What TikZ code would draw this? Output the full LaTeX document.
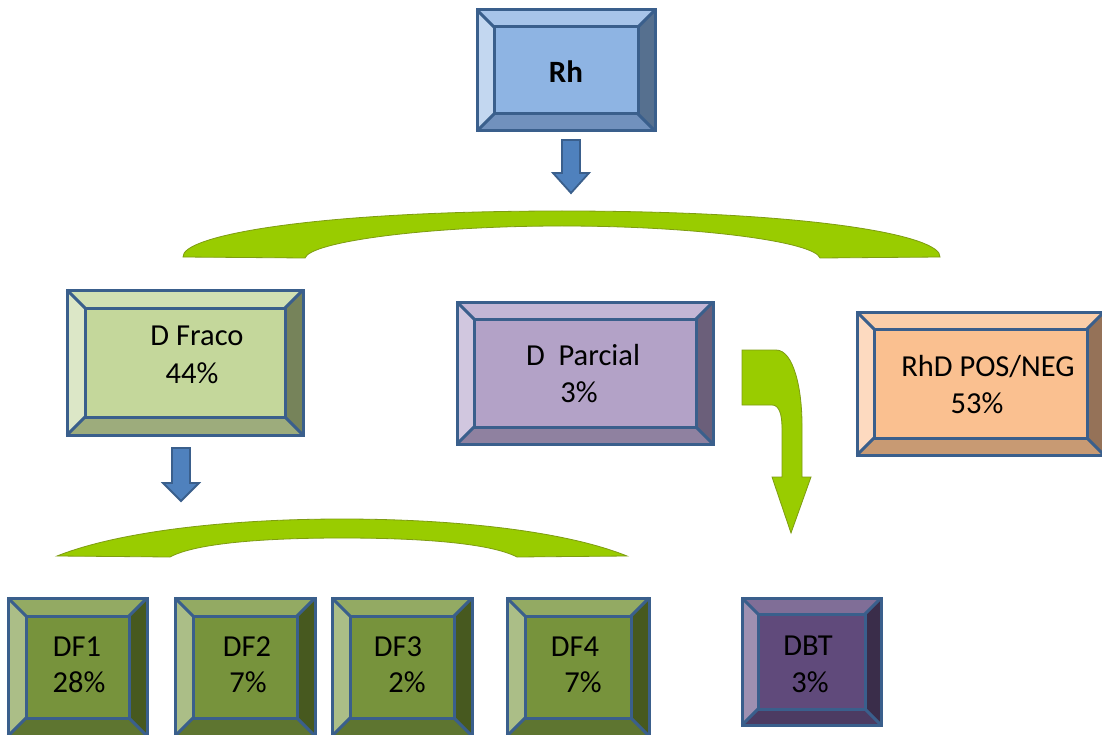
\documentclass[tikz,border=0pt]{standalone}
\usepackage{fontspec}
\setmainfont{Carlito}
\usetikzlibrary{calc}

% outline and arrow colours
\definecolor{edge}{HTML}{3A5F8C}
\definecolor{arrowblue}{HTML}{4F81BD}
\definecolor{lime}{HTML}{99CC00}
\definecolor{limeedge}{HTML}{7E9C12}
% bevelled panel palettes: face, top, left, right, bottom
\definecolor{rhFace}{HTML}{8EB4E3}\definecolor{rhTop}{HTML}{A7C4E9}\definecolor{rhLeft}{HTML}{C3D7F0}\definecolor{rhRight}{HTML}{56708F}\definecolor{rhBot}{HTML}{7191BD}
\definecolor{frFace}{HTML}{C4D79B}\definecolor{frTop}{HTML}{D1E0B3}\definecolor{frLeft}{HTML}{DCE7C7}\definecolor{frRight}{HTML}{76835A}\definecolor{frBot}{HTML}{9DAC7C}
\definecolor{paFace}{HTML}{B3A2C7}\definecolor{paTop}{HTML}{C3B6D5}\definecolor{paLeft}{HTML}{D1C7DF}\definecolor{paRight}{HTML}{6B5F7A}\definecolor{paBot}{HTML}{8F81A0}
\definecolor{poFace}{HTML}{FAC090}\definecolor{poTop}{HTML}{FBCEA9}\definecolor{poLeft}{HTML}{FDDAC0}\definecolor{poRight}{HTML}{957258}\definecolor{poBot}{HTML}{C89A73}
\definecolor{dfFace}{HTML}{77933C}\definecolor{dfTop}{HTML}{93AA63}\definecolor{dfLeft}{HTML}{ABBE87}\definecolor{dfRight}{HTML}{47591F}\definecolor{dfBot}{HTML}{5E7530}
\definecolor{dbFace}{HTML}{604A7B}\definecolor{dbTop}{HTML}{806E97}\definecolor{dbLeft}{HTML}{9E90B1}\definecolor{dbRight}{HTML}{3A2D4A}\definecolor{dbBot}{HTML}{4C3B62}

\tikzset{
  panel/.style={rectangle, inner sep=0pt, outer sep=0pt},
  bord/.style={draw=edge, line width=3pt, line join=miter},
  lbl/.style={anchor=base, inner sep=0pt, text=black, font=\fontsize{30.5}{36}\selectfont},
  greenshape/.style={fill=lime, draw=limeedge, line width=0.8pt},
  bluearrow/.style={fill=arrowblue, draw=edge, line width=1.8pt, line join=miter},
}

% bevelled panel around node #1: #2 bevel width, #3 face, #4 top, #5 left, #6 right, #7 bottom
\newcommand\bevelpanel[7]{%
  \fill[#4] (#1.north west) -- (#1.north east) -- ($(#1.north east)+(-#2,-#2)$) -- ($(#1.north west)+(#2,-#2)$) -- cycle;
  \fill[#5] (#1.north west) -- (#1.south west) -- ($(#1.south west)+(#2,#2)$) -- ($(#1.north west)+(#2,-#2)$) -- cycle;
  \fill[#6] (#1.north east) -- (#1.south east) -- ($(#1.south east)+(-#2,#2)$) -- ($(#1.north east)+(-#2,-#2)$) -- cycle;
  \fill[#7] (#1.south west) -- (#1.south east) -- ($(#1.south east)+(-#2,#2)$) -- ($(#1.south west)+(#2,#2)$) -- cycle;
  \fill[#3] ($(#1.north west)+(#2,-#2)$) rectangle ($(#1.south east)+(-#2,#2)$);
  \draw[bord] ($(#1.north west)+(#2,-#2)$) rectangle ($(#1.south east)+(-#2,#2)$);
  \draw[bord] (#1.north west) -- ++(#2,-#2) (#1.north east) -- ++(-#2,-#2)
              (#1.south west) -- ++(#2,#2) (#1.south east) -- ++(-#2,#2);
  \draw[bord] (#1.north west) rectangle (#1.south east);
}

\begin{document}
\begin{tikzpicture}[x=1pt,y=-1pt]
\useasboundingbox (0,0) rectangle (1102,735);
\clip (0,0) rectangle (1102,735);
\fill[white] (0,0) rectangle (1102,735);

% panels
\node[panel, minimum width=178pt, minimum height=121pt] (rh) at (566,70.5) {};
\node[panel, minimum width=236pt, minimum height=145pt] (fraco) at (185,362.5) {};
\node[panel, minimum width=256pt, minimum height=142pt] (parcial) at (585,373) {};
\node[panel, minimum width=247pt, minimum height=143pt] (posneg) at (980.5,383.5) {};
\node[panel, minimum width=139pt, minimum height=138pt] (df1) at (77.5,667) {};
\node[panel, minimum width=140pt, minimum height=138pt] (df2) at (245,667) {};
\node[panel, minimum width=140pt, minimum height=138pt] (df3) at (402,667) {};
\node[panel, minimum width=142pt, minimum height=138pt] (df4) at (578,667) {};
\node[panel, minimum width=139pt, minimum height=127pt] (dbt) at (811.5,661.5) {};

\bevelpanel{rh}{17pt}{rhFace}{rhTop}{rhLeft}{rhRight}{rhBot}
\bevelpanel{fraco}{18pt}{frFace}{frTop}{frLeft}{frRight}{frBot}
\bevelpanel{parcial}{17pt}{paFace}{paTop}{paLeft}{paRight}{paBot}
\bevelpanel{posneg}{17pt}{poFace}{poTop}{poLeft}{poRight}{poBot}
\bevelpanel{df1}{18pt}{dfFace}{dfTop}{dfLeft}{dfRight}{dfBot}
\bevelpanel{df2}{18pt}{dfFace}{dfTop}{dfLeft}{dfRight}{dfBot}
\bevelpanel{df3}{18pt}{dfFace}{dfTop}{dfLeft}{dfRight}{dfBot}
\bevelpanel{df4}{18pt}{dfFace}{dfTop}{dfLeft}{dfRight}{dfBot}
\bevelpanel{dbt}{16pt}{dbFace}{dbTop}{dbLeft}{dbRight}{dbBot}

% labels
\node[lbl, font=\fontsize{31}{36}\selectfont\bfseries] (rh-a) at (566,83) {Rh};
\node[lbl] (fraco-a) at (197,345) {D Fraco};
\node[lbl] (fraco-b) at (192,383) {44\%};
\node[lbl] (parcial-a) at (583,365) {D\ \ Parcial};
\node[lbl] (parcial-b) at (579,402) {3\%};
\node[lbl] (posneg-a) at (988,376) {RhD POS/NEG};
\node[lbl] (posneg-b) at (977,413) {53\%};
\node[lbl] (df1-a) at (77,656) {DF1};
\node[lbl] (df1-b) at (79,692) {28\%};
\node[lbl] (df2-a) at (247,656) {DF2};
\node[lbl] (df2-b) at (248,692) {7\%};
\node[lbl] (df3-a) at (398,656) {DF3};
\node[lbl] (df3-b) at (407,692) {2\%};
\node[lbl] (df4-a) at (575,656) {DF4};
\node[lbl] (df4-b) at (583,692) {7\%};
\node[lbl] (dbt-a) at (808,655) {DBT};
\node[lbl] (dbt-b) at (810,692) {3\%};

% block arrows below Rh and D Fraco
\coordinate (rhout) at (571,140);
\draw[bluearrow] (rhout) ++(-9,0) -- ++(18,0) -- ++(0,33) -- ++(9,0) -- ++(-18,20) -- ++(-18,-20) -- ++(9,0) -- cycle;
\coordinate (fracoout) at (181,448);
\draw[bluearrow] (fracoout) ++(-9,0) -- ++(18,0) -- ++(0,35) -- ++(9,0) -- ++(-18,18) -- ++(-18,-18) -- ++(9,0) -- cycle;

% upper curved bracket
\draw[greenshape] (183,257) .. controls (181,236) and (310,211) .. (562,211)
  .. controls (815,211) and (942,236) .. (940,257) -- (820,258)
  .. controls (815,242) and (700,226) .. (562,226)
  .. controls (425,226) and (310,242) .. (305,258) -- cycle;

% lower curved bracket
\draw[greenshape] (57,556) .. controls (120,531) and (230,519) .. (342,519)
  .. controls (455,519) and (565,531) .. (627,556) -- (517,557)
  .. controls (490,543) and (420,538) .. (342,538)
  .. controls (265,538) and (196,543) .. (170,557) -- cycle;

% bent arrow from D Parcial down to DBT
\draw[greenshape] (742,350) -- (776,350) .. controls (794,350) and (802,390) .. (802,425)
  -- (802,477) -- (811,477) -- (791,533) -- (772,477) -- (782,477) -- (782,428)
  .. controls (782,414) and (779,405) .. (772,405) -- (742,405) -- cycle;
\end{tikzpicture}
\end{document}
